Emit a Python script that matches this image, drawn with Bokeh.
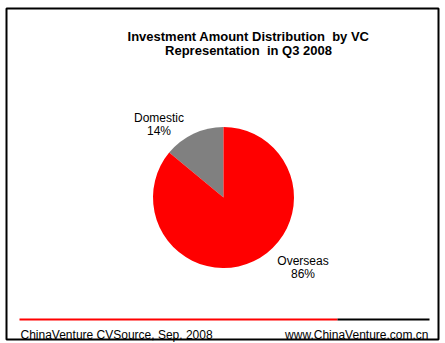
import math
from bokeh.plotting import figure
from bokeh.models import Range1d, ColumnDataSource
from bokeh.core.properties import value
from bokeh.embed import file_html
from bokeh.resources import INLINE

# Data
categories = ["Domestic", "Overseas"]
shares = [14, 86]
colors = ["#808080", "#FF0000"]
title_lines = ["Investment Amount Distribution\u00a0 by VC", "Representation\u00a0 in Q3 2008"]
source_text = "ChinaVenture CVSource, Sep. 2008"
site_text = "www.ChinaVenture.com.cn"

W, H = 445, 343
p = figure(width=W, height=H, output_backend="svg", toolbar_location=None,
           x_range=Range1d(0, W), y_range=Range1d(H, 0), min_border=0)
p.axis.visible = False
p.grid.visible = False
p.outline_line_color = None
p.background_fill_color = "white"
p.border_fill_color = "white"

# outer frame
p.quad(left=[6], right=[438], top=[8], bottom=[339], fill_color=None,
       line_color="black", line_width=2)

# pie: start at 12 o'clock, Domestic counterclockwise
cx, cy, r = 223, 197, 70.5
total = sum(shares)
starts, ends = [], []
acc = 0.0
for s in shares:
    a0 = math.pi / 2 + acc / total * 2 * math.pi
    acc += s
    a1 = math.pi / 2 + acc / total * 2 * math.pi
    starts.append(a0)
    ends.append(a1)
src = ColumnDataSource(dict(start=starts, end=ends, color=colors, cat=categories))
p.wedge(x=cx, y=cy, radius=r, start_angle="start", end_angle="end",
        fill_color="color", line_color=None, source=src)

font = value("Liberation Sans")
# slice labels
lbl_x = [158.5, 302.5]
lbl_y = [117, 260]
for i, c in enumerate(categories):
    p.text(x=[lbl_x[i]], y=[lbl_y[i]], text=[c], text_font=font,
           text_font_size="12px", text_align="center", text_baseline="alphabetic",
           text_color="black")
    p.text(x=[lbl_x[i]], y=[lbl_y[i] + 13], text=[f"{shares[i]}%"], text_font=font,
           text_font_size="12px", text_align="center", text_baseline="alphabetic",
           text_color="black")

# title
for i, t in enumerate(title_lines):
    p.text(x=[248], y=[36 + 14 * i], text=[t], text_font=font, text_font_size="13px",
           text_font_style="bold", text_align="center", text_baseline="alphabetic",
           text_color="black")

# footer rule
p.segment(x0=[19], y0=[319], x1=[337], y1=[319], line_color="#FF0000", line_width=2)
p.segment(x0=[337], y0=[319], x1=[429], y1=[319], line_color="black", line_width=2)

p.text(x=[20], y=[334], text=[source_text], text_font=font, text_font_size="12px",
       text_align="left", text_baseline="alphabetic", text_color="black")
p.text(x=[428], y=[334], text=[site_text], text_font=font, text_font_size="12px",
       text_align="right", text_baseline="alphabetic", text_color="black")

open("out.html", "w").write(file_html(p, INLINE))
